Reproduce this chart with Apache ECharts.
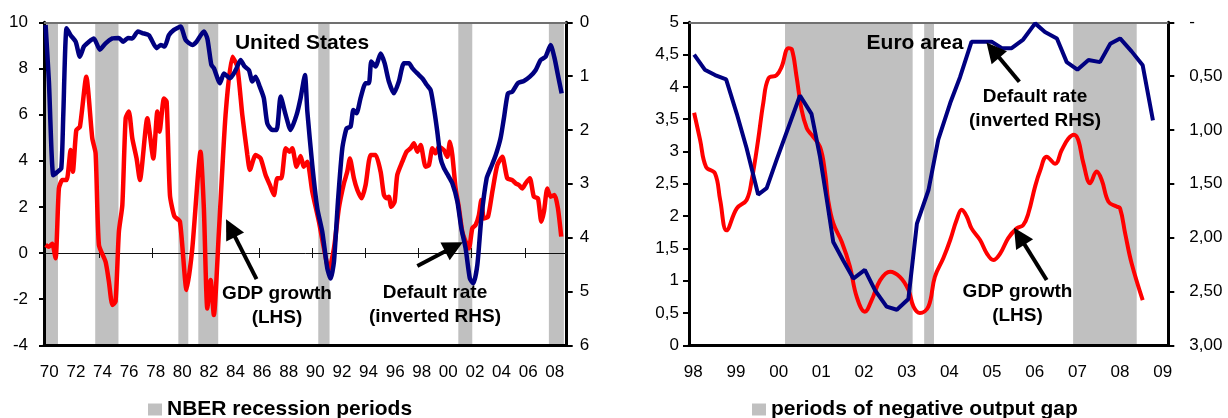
<!DOCTYPE html>
<html>
<head>
<meta charset="utf-8">
<script src="https://cdn.jsdelivr.net/npm/echarts@6/dist/echarts.min.js"></script>
<style>
  html, body { margin: 0; padding: 0; background: #fff; }
  #chart { width: 1228px; height: 418px; }
</style>
</head>
<body>
<div id="chart"></div>
<script>
const FONT = "'Liberation Sans', Arial, sans-serif"

// United States: GDP growth (LHS, %) and default rate (inverted RHS, %), [year, value]
const usGdp = [
  [1970.12, 0.35], [1970.37, 0.27], [1970.62, 0.4], [1970.87, -0.23], [1971.12, 2.8], [1971.38, 3.16],
  [1971.7, 3.16], [1972.0, 4.46], [1972.17, 3.52], [1972.43, 5.33], [1972.7, 5.47], [1973.18, 7.64],
  [1973.63, 4.97], [1973.88, 4.32], [1974.13, 0.35], [1974.63, -0.38], [1974.88, -1.24], [1975.14, -2.25],
  [1975.38, -2.1], [1975.63, 0.92], [1975.89, 2.08], [1976.14, 5.84], [1976.38, 6.13], [1976.64, 4.97],
  [1976.96, 4.1], [1977.21, 3.16], [1977.77, 5.84], [1978.22, 4.1], [1978.52, 6.13], [1978.69, 5.26],
  [1979.02, 6.7], [1979.22, 6.56], [1979.47, 2.51], [1979.8, 1.6], [1980.22, 1.36], [1980.72, -1.6],
  [1981.15, 0.2], [1981.77, 4.39], [1982.02, 1.94], [1982.28, -2.4], [1982.53, -1.17], [1982.77, -2.69],
  [1983.15, 0.92], [1983.65, 5.98], [1984.16, 8.51], [1984.53, 8.08], [1984.91, 5.98], [1985.29, 4.25],
  [1985.48, 3.6], [1985.91, 4.25], [1986.29, 4.1], [1986.66, 3.38], [1986.98, 2.95], [1987.29, 2.51],
  [1987.54, 3.24], [1987.84, 3.24], [1988.17, 4.54], [1988.47, 4.39], [1988.67, 4.54], [1988.99, 3.74],
  [1989.29, 4.2], [1989.54, 3.74], [1989.8, 3.96], [1990.17, 2.66], [1990.67, 1.36], [1991.05, 0.2],
  [1991.42, -0.74], [1991.8, 0.2], [1992.17, 1.94], [1992.55, 3.02], [1992.8, 3.52], [1993.0, 4.1],
  [1993.3, 3.24], [1993.56, 2.73], [1993.88, 2.37], [1994.18, 2.95], [1994.56, 4.25], [1994.93, 4.25],
  [1995.31, 3.52], [1995.56, 2.51], [1995.76, 2.37], [1995.93, 2.44], [1996.11, 2.0], [1996.36, 2.22],
  [1996.56, 3.38], [1996.94, 3.96], [1997.26, 4.39], [1997.56, 4.54], [1997.81, 4.76], [1998.07, 4.39],
  [1998.32, 4.68], [1998.69, 3.74], [1998.94, 3.81], [1999.2, 4.54], [1999.44, 4.32], [1999.69, 4.61],
  [2000.07, 4.46], [2000.32, 4.17], [2000.52, 4.82], [2000.7, 4.25], [2000.95, 2.8], [2001.2, 1.94],
  [2001.45, 0.92], [2001.7, 0.49], [2001.95, 0.2], [2002.2, 1.07], [2002.45, 1.21], [2002.7, 1.65],
  [2002.88, 2.3], [2003.07, 1.5], [2003.38, 1.57], [2003.71, 2.66], [2004.08, 3.81], [2004.46, 4.17],
  [2004.83, 3.24], [2005.21, 3.16], [2005.46, 3.02], [2005.71, 2.95], [2005.96, 2.8], [2006.21, 3.02],
  [2006.53, 3.24], [2006.83, 2.44], [2007.14, 2.37], [2007.39, 1.36], [2007.59, 1.79], [2007.84, 2.8],
  [2008.09, 2.44], [2008.39, 2.51], [2008.64, 1.94], [2008.89, 0.71]
]

const usDefault = [
  [1970.12, 0.05], [1970.37, 1.1], [1970.7, 2.84], [1971.0, 2.78], [1971.3, 2.71], [1971.45, 1.72],
  [1971.7, 0.11], [1972.0, 0.24], [1972.38, 0.36], [1972.7, 0.64], [1973.0, 0.45], [1973.38, 0.36],
  [1973.75, 0.3], [1974.2, 0.51], [1974.63, 0.39], [1975.14, 0.3], [1975.63, 0.29], [1975.96, 0.36],
  [1976.31, 0.29], [1976.64, 0.3], [1977.06, 0.17], [1977.39, 0.2], [1977.89, 0.24], [1978.47, 0.48],
  [1978.77, 0.42], [1979.07, 0.45], [1979.39, 0.24], [1979.77, 0.14], [1980.27, 0.08], [1980.65, 0.33],
  [1981.15, 0.42], [1981.47, 0.36], [1982.02, 0.17], [1982.28, 0.3], [1982.58, 0.79], [1982.77, 0.85],
  [1983.23, 1.13], [1983.53, 0.95], [1983.98, 1.04], [1984.41, 0.89], [1984.78, 0.7], [1985.08, 0.82],
  [1985.41, 0.89], [1985.66, 1.1], [1985.91, 1.01], [1986.23, 1.2], [1986.53, 1.41], [1986.79, 1.88],
  [1987.17, 2.0], [1987.49, 2.0], [1987.79, 1.38], [1988.17, 1.72], [1988.54, 2.0], [1988.99, 1.72],
  [1989.29, 1.41], [1989.62, 0.98], [1989.8, 1.66], [1990.17, 2.65], [1990.55, 3.46], [1990.92, 3.89],
  [1991.3, 4.57], [1991.55, 4.76], [1991.8, 4.45], [1992.1, 3.33], [1992.43, 2.34], [1992.75, 1.97],
  [1993.05, 1.94], [1993.26, 1.63], [1993.5, 1.69], [1993.8, 1.41], [1994.18, 1.13], [1994.43, 1.13],
  [1994.61, 0.73], [1994.93, 0.82], [1995.31, 0.58], [1995.61, 0.76], [1995.93, 1.1], [1996.31, 1.32],
  [1996.68, 1.1], [1997.06, 0.76], [1997.44, 0.76], [1997.69, 0.85], [1998.07, 0.95], [1998.44, 1.04],
  [1998.77, 1.16], [1999.07, 1.26], [1999.32, 1.6], [1999.57, 2.03], [1999.82, 2.53], [2000.07, 2.71],
  [2000.37, 2.84], [2000.7, 2.99], [2001.08, 3.33], [2001.38, 3.83], [2001.7, 4.2], [2002.02, 4.76],
  [2002.28, 4.85], [2002.58, 4.51], [2002.88, 3.64], [2003.28, 2.9], [2003.58, 2.71], [2003.96, 2.47],
  [2004.33, 2.15], [2004.58, 1.78], [2004.88, 1.32], [2005.21, 1.29], [2005.63, 1.13], [2006.08, 1.09],
  [2006.53, 1.01], [2006.96, 0.89], [2007.34, 0.7], [2007.71, 0.64], [2008.09, 0.42], [2008.39, 0.67],
  [2008.64, 0.98], [2008.92, 1.32]
]

const nberRecessions = [
  [1970.0, 1971.05], [1973.85, 1975.6], [1980.1, 1980.85], [1981.6, 1983.1],
  [1990.62, 1991.47], [2001.15, 2002.2], [2007.96, 2009.09]
]

// Euro area
const euroGdp = [
  [1998.02, 3.6], [1998.16, 3.18], [1998.3, 2.76], [1998.51, 2.66], [1998.63, 2.25], [1998.78, 1.78],
  [1999.02, 2.12], [1999.25, 2.25], [1999.37, 2.56], [1999.52, 3.18], [1999.64, 3.75], [1999.76, 4.13],
  [1999.95, 4.18], [2000.07, 4.31], [2000.23, 4.6], [2000.31, 4.58], [2000.42, 4.16], [2000.54, 3.64],
  [2000.66, 3.36], [2000.77, 3.26], [2000.97, 3.07], [2001.09, 2.66], [2001.16, 2.25], [2001.28, 1.89],
  [2001.48, 1.6], [2001.67, 1.22], [2001.83, 0.75], [2002.02, 0.52], [2002.18, 0.7], [2002.38, 1.01],
  [2002.61, 1.14], [2002.84, 1.06], [2003.04, 0.86], [2003.16, 0.6], [2003.31, 0.5], [2003.51, 0.6],
  [2003.66, 1.06], [2003.86, 1.35], [2004.02, 1.63], [2004.17, 1.94], [2004.29, 2.1], [2004.41, 1.99],
  [2004.52, 1.81], [2004.72, 1.63], [2004.88, 1.42], [2005.03, 1.32], [2005.19, 1.42], [2005.38, 1.66],
  [2005.58, 1.81], [2005.73, 1.86], [2005.85, 2.04], [2006.01, 2.46], [2006.13, 2.71], [2006.28, 2.92],
  [2006.48, 2.81], [2006.63, 3.02], [2006.79, 3.2], [2006.92, 3.26], [2007.02, 3.18], [2007.14, 2.82],
  [2007.3, 2.51], [2007.45, 2.69], [2007.57, 2.56], [2007.73, 2.22], [2007.92, 2.15], [2008.0, 2.12],
  [2008.12, 1.73], [2008.27, 1.27], [2008.53, 0.7]
]

const euroDefault = [
  [1998.02, 0.3], [1998.27, 0.44], [1998.51, 0.49], [1998.77, 0.53], [1999.02, 0.85], [1999.25, 1.17],
  [1999.52, 1.6], [1999.72, 1.54], [1999.95, 1.28], [2000.5, 0.68], [2000.77, 0.85], [2000.97, 1.25],
  [2001.13, 1.65], [2001.28, 2.04], [2001.51, 2.21], [2001.75, 2.38], [2002.02, 2.3], [2002.26, 2.49],
  [2002.53, 2.64], [2002.77, 2.67], [2003.04, 2.57], [2003.24, 1.87], [2003.51, 1.56], [2003.74, 1.09],
  [2004.02, 0.75], [2004.25, 0.51], [2004.52, 0.18], [2004.99, 0.18], [2005.23, 0.24], [2005.46, 0.24],
  [2005.73, 0.16], [2006.01, 0.01], [2006.24, 0.09], [2006.52, 0.15], [2006.75, 0.37], [2007.0, 0.44],
  [2007.26, 0.35], [2007.53, 0.37], [2007.77, 0.2], [2008.0, 0.15], [2008.27, 0.27], [2008.53, 0.4],
  [2008.77, 0.91]
]

const negativeGapPeriods = [[2000.15, 2003.14], [2003.41, 2003.64], [2006.9, 2008.39]]

// tick labels
const usLabelYears = [1970, 1972, 1974, 1976, 1978, 1980, 1982, 1984, 1986, 1988, 1990,
  1992, 1994, 1996, 1998, 2000, 2002, 2004, 2006, 2008]
const usZeroTickYears = [1974, 1978, 1982, 1986, 1990, 1994, 1998, 2002, 2006]
const euroLabelYears = [1998, 1999, 2000, 2001, 2002, 2003, 2004, 2005, 2006, 2007, 2008, 2009]

// arrows: [from, to] in (year, LHS value)
const usArrows = [
  [[1985.98, -1.13], [1984.03, 1.08]],
  [[1998.07, -0.56], [2000.82, 0.27]]
]
const euroArrows = [
  [[2005.64, 4.08], [2005.02, 4.57]],
  [[2006.28, 1.01], [2005.64, 1.69]]
]

const US_LABEL_SHIFT = 0.4
const US_TICK_SHIFT = 0.15
const US_X = { min: 1970, max: 2009.3 }
const EU_X = { min: 1997.9, max: 2009.13 }

const yy = (v) => String(Math.floor(v + 0.01) % 100).padStart(2, '0')
const comma = (v, d) => v.toFixed(d).replace('.', ',')

const labelStyle = { color: '#000', fontSize: 17, fontFamily: FONT }
const blackLine = { color: '#000', width: 3 }
const borderTop = { color: '#707070', width: 2 }
const legendText = { fontSize: 21, fontWeight: 'bold', fontFamily: FONT, color: '#000' }

function arrowLines(list) {
  return {
    silent: true,
    animation: false,
    symbol: ['none', 'triangle'],
    symbolSize: 20,
    label: { show: false },
    lineStyle: { color: '#000', width: 4, type: 'solid' },
    emphasis: { disabled: true },
    data: list.map(([a, b]) => [{ coord: a }, { coord: b }])
  }
}

const chart = echarts.init(document.getElementById('chart'))

chart.setOption({
  backgroundColor: '#fff',
  animation: false,
  grid: [
    { left: 44, width: 522.7, top: 22.3, height: 323 },
    { left: 689, width: 479.3, top: 22.3, height: 323 }
  ],
  legend: [
    {
      data: ['NBER recession periods'], left: 148, top: 399, padding: 0,
      icon: 'rect', itemWidth: 14, itemHeight: 12, selectedMode: false, textStyle: legendText
    },
    {
      data: ['periods of negative output gap'], left: 752, top: 399, padding: 0,
      icon: 'rect', itemWidth: 14, itemHeight: 12, selectedMode: false, textStyle: legendText
    }
  ],
  xAxis: [
    {
      gridIndex: 0, type: 'value', ...US_X, position: 'bottom', z: 1,
      axisLine: { onZero: false, lineStyle: blackLine },
      axisTick: { show: false },
      splitLine: { show: false },
      axisLabel: {
        ...labelStyle, margin: 19,
        customValues: usLabelYears.map((y) => y + US_LABEL_SHIFT),
        formatter: yy
      }
    },
    {
      gridIndex: 0, type: 'value', ...US_X, position: 'bottom', z: 1,
      axisLine: { onZero: true, onZeroAxisIndex: 0, lineStyle: { color: '#111', width: 1 } },
      axisTick: { customValues: usZeroTickYears.map((y) => y + US_TICK_SHIFT), length: 5, lineStyle: { color: '#111', width: 1 } },
      splitLine: { show: false },
      axisLabel: { show: false }
    },
    {
      gridIndex: 0, type: 'value', ...US_X, position: 'bottom', z: 1,
      axisLine: { show: false, onZero: true, onZeroAxisIndex: 0 },
      axisTick: { inside: true, customValues: usZeroTickYears.map((y) => y + US_TICK_SHIFT), length: 5, lineStyle: { color: '#111', width: 1 } },
      splitLine: { show: false },
      axisLabel: { show: false }
    },
    {
      gridIndex: 0, type: 'value', ...US_X, position: 'top', z: 1,
      axisLine: { onZero: false, lineStyle: borderTop },
      axisTick: { show: false }, splitLine: { show: false }, axisLabel: { show: false }
    },
    {
      gridIndex: 1, type: 'value', ...EU_X, position: 'bottom', z: 1,
      axisLine: { onZero: false, lineStyle: blackLine },
      axisTick: { show: false },
      splitLine: { show: false },
      axisLabel: { ...labelStyle, margin: 19, customValues: euroLabelYears, formatter: yy }
    },
    {
      gridIndex: 1, type: 'value', ...EU_X, position: 'top', z: 1,
      axisLine: { onZero: false, lineStyle: borderTop },
      axisTick: { show: false }, splitLine: { show: false }, axisLabel: { show: false }
    }
  ],
  yAxis: [
    {
      gridIndex: 0, type: 'value', min: -4, max: 10, interval: 2, position: 'left', z: 1,
      axisLine: { show: true, onZero: false, lineStyle: blackLine },
      axisTick: { show: true, length: 5, lineStyle: { color: '#000', width: 2 } },
      splitLine: { show: false },
      axisLabel: { ...labelStyle, margin: 16 }
    },
    {
      gridIndex: 0, type: 'value', min: 0, max: 6, interval: 1, inverse: true, position: 'right', z: 1,
      axisLine: { show: true, onZero: false, lineStyle: blackLine },
      axisTick: { show: true, length: 6, lineStyle: { color: '#000', width: 2 } },
      splitLine: { show: false },
      axisLabel: { ...labelStyle, margin: 13 }
    },
    {
      gridIndex: 1, type: 'value', min: 0, max: 5, interval: 0.5, position: 'left', z: 1,
      axisLine: { show: true, onZero: false, lineStyle: blackLine },
      axisTick: { show: true, length: 6, lineStyle: { color: '#000', width: 2 } },
      splitLine: { show: false },
      axisLabel: { ...labelStyle, margin: 10, formatter: (v) => (Number.isInteger(v) ? String(v) : comma(v, 1)) }
    },
    {
      gridIndex: 1, type: 'value', min: 0, max: 3, interval: 0.5, inverse: true, position: 'right', z: 1,
      axisLine: { show: true, onZero: false, lineStyle: blackLine },
      axisTick: { show: true, length: 6, lineStyle: { color: '#000', width: 2 } },
      splitLine: { show: false },
      axisLabel: { ...labelStyle, margin: 21, formatter: (v) => (v === 0 ? '-' : comma(v, 2)) }
    }
  ],
  graphic: [
    {
      type: 'text', x: 302, y: 43, z: 10,
      style: { text: 'United States', align: 'center', verticalAlign: 'middle', fontSize: 21, fontWeight: 'bold', fontFamily: FONT, fill: '#000' }
    },
    {
      type: 'text', x: 277, y: 306, z: 10,
      style: { text: 'GDP growth\n(LHS)', align: 'center', verticalAlign: 'middle', lineHeight: 24, fontSize: 19, fontWeight: 'bold', fontFamily: FONT, fill: '#000' }
    },
    {
      type: 'text', x: 435, y: 305, z: 10,
      style: { text: 'Default rate\n(inverted RHS)', align: 'center', verticalAlign: 'middle', lineHeight: 24, fontSize: 19, fontWeight: 'bold', fontFamily: FONT, fill: '#000' }
    },
    {
      type: 'text', x: 915, y: 43, z: 10,
      style: { text: 'Euro area', align: 'center', verticalAlign: 'middle', fontSize: 21, fontWeight: 'bold', fontFamily: FONT, fill: '#000' }
    },
    {
      type: 'text', x: 1035, y: 109, z: 10,
      style: { text: 'Default rate\n(inverted RHS)', align: 'center', verticalAlign: 'middle', lineHeight: 24, fontSize: 19, fontWeight: 'bold', fontFamily: FONT, fill: '#000' }
    },
    {
      type: 'text', x: 1017.5, y: 304, z: 10,
      style: { text: 'GDP growth\n(LHS)', align: 'center', verticalAlign: 'middle', lineHeight: 24, fontSize: 19, fontWeight: 'bold', fontFamily: FONT, fill: '#000' }
    }
  ],
  series: [
    {
      name: 'NBER recession periods', type: 'bar', xAxisIndex: 0, yAxisIndex: 0, data: [], z: 0,
      itemStyle: { color: '#c0c0c0' },
      markArea: {
        silent: true,
        itemStyle: { color: '#c0c0c0' },
        data: nberRecessions.map(([a, b]) => [{ xAxis: a }, { xAxis: b }])
      }
    },
    {
      name: 'GDP growth (US)', type: 'line', xAxisIndex: 0, yAxisIndex: 0, z: 3,
      data: usGdp, showSymbol: false, smooth: 0.2,
      lineStyle: { color: '#ff0000', width: 4.5 }, itemStyle: { color: '#ff0000' },
      markLine: arrowLines(usArrows)
    },
    {
      name: 'Default rate (US)', type: 'line', xAxisIndex: 0, yAxisIndex: 1, z: 3,
      data: usDefault, showSymbol: false, smooth: 0.2,
      lineStyle: { color: '#000080', width: 4.5 }, itemStyle: { color: '#000080' }
    },
    {
      name: 'periods of negative output gap', type: 'bar', xAxisIndex: 4, yAxisIndex: 2, data: [], z: 0,
      itemStyle: { color: '#c0c0c0' },
      markArea: {
        silent: true,
        itemStyle: { color: '#c0c0c0' },
        data: negativeGapPeriods.map(([a, b]) => [{ xAxis: a }, { xAxis: b }])
      }
    },
    {
      name: 'GDP growth (euro)', type: 'line', xAxisIndex: 4, yAxisIndex: 2, z: 3,
      data: euroGdp, showSymbol: false, smooth: 0.4,
      lineStyle: { color: '#ff0000', width: 4 }, itemStyle: { color: '#ff0000' },
      markLine: arrowLines(euroArrows)
    },
    {
      name: 'Default rate (euro)', type: 'line', xAxisIndex: 4, yAxisIndex: 3, z: 3,
      data: euroDefault, showSymbol: false,
      lineStyle: { color: '#000080', width: 4 }, itemStyle: { color: '#000080' }
    }
  ]
})
</script>
</body>
</html>
